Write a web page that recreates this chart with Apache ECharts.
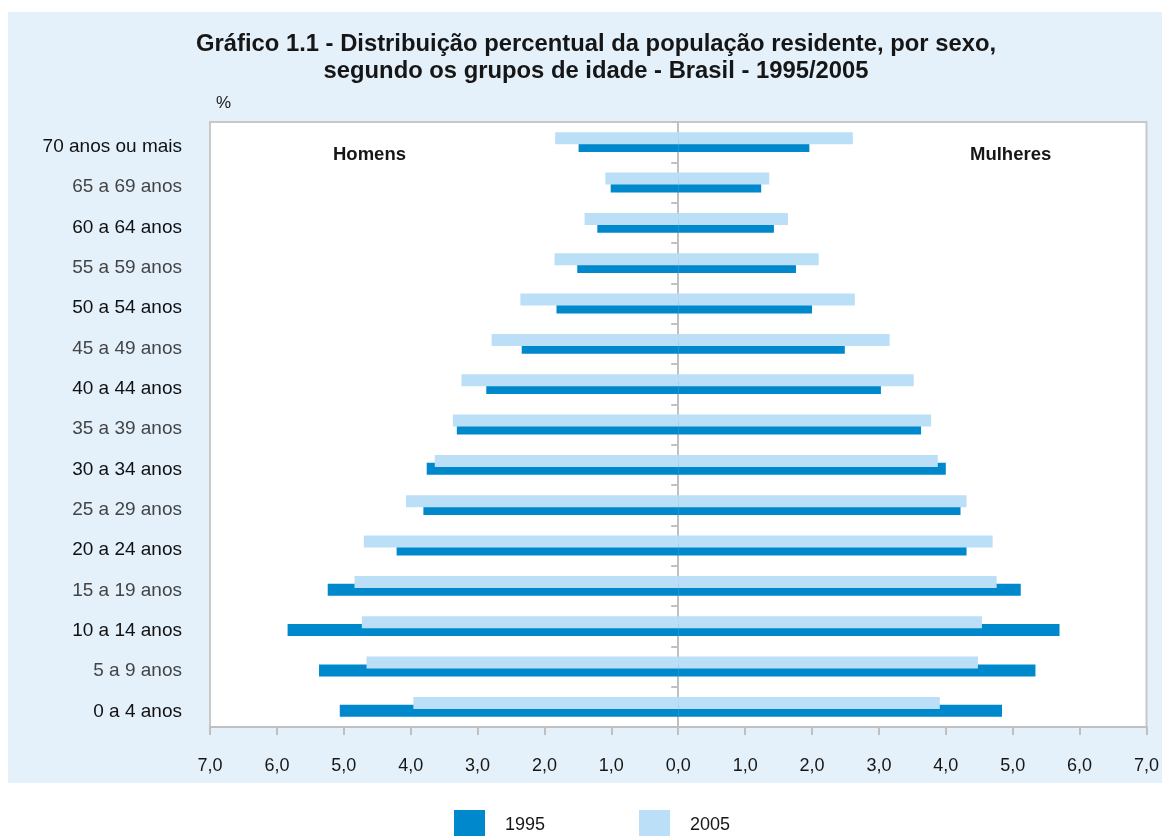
<!DOCTYPE html>
<html>
<head>
<meta charset="utf-8">
<script src="https://cdn.jsdelivr.net/npm/echarts@6/dist/echarts.min.js"></script>
<style>html,body{margin:0;padding:0;background:#fff;}#c{width:1162px;height:836px;}</style>
</head>
<body>
<div id="c"></div>
<script>
// Age groups, bottom to top
const categories = ['0 a 4 anos','5 a 9 anos','10 a 14 anos','15 a 19 anos','20 a 24 anos','25 a 29 anos','30 a 34 anos','35 a 39 anos','40 a 44 anos','45 a 49 anos','50 a 54 anos','55 a 59 anos','60 a 64 anos','65 a 69 anos','70 anos ou mais'];
const homens1995 = [5.06,5.37,5.84,5.24,4.21,3.81,3.76,3.31,2.87,2.34,1.82,1.51,1.21,1.01,1.49];
const homens2005 = [3.96,4.66,4.73,4.84,4.70,4.07,3.64,3.37,3.24,2.79,2.36,1.85,1.40,1.09,1.84];
const mulheres1995 = [4.84,5.34,5.70,5.12,4.31,4.22,4.00,3.63,3.03,2.49,2.00,1.76,1.43,1.24,1.96];
const mulheres2005 = [3.91,4.48,4.54,4.76,4.70,4.31,3.88,3.78,3.52,3.16,2.64,2.10,1.64,1.36,2.61];
const years = ['1995','2005'];
const xTicks = {min:-7, max:7, interval:1};

const C1995 = '#0088cc', C2005 = '#bbdff7';
const FONT = 'Liberation Sans, Arial, sans-serif';
const TXT = '#161616';

const chart = echarts.init(document.getElementById('c'), null, {renderer:'canvas'});
const barCommon = {type:'bar', barWidth:12, barGap:'-35%', yAxisIndex:0};
chart.setOption({
  backgroundColor:'#ffffff',
  animation:false,
  title:{
    text:'Gráfico 1.1 - Distribuição percentual da população residente, por sexo,\nsegundo os grupos de idade - Brasil - 1995/2005',
    left:591, top:26, textAlign:'center',
    textStyle:{fontFamily:FONT, fontSize:23.8, fontWeight:'bold', color:TXT, lineHeight:27}
  },
  legend:{
    data:years, left:454, top:810, itemWidth:31, itemHeight:30, itemGap:94, padding:0,
    icon:'rect',
    textStyle:{fontFamily:FONT, fontSize:18, color:TXT, padding:[0,0,0,15]}
  },
  graphic:[
    {type:'rect', z:-100, shape:{x:8,y:12,width:1154,height:771}, style:{fill:'#e4f1fb'}, silent:true},
    {type:'text', left:216, top:95, style:{text:'%', font:'17px '+FONT, fill:TXT}},
    {type:'text', left:333, top:145, style:{text:'Homens', font:'bold 18.5px '+FONT, fill:TXT}},
    {type:'text', left:970, top:145, style:{text:'Mulheres', font:'bold 18.5px '+FONT, fill:TXT}}
  ],
  grid:{left:210, right:15, top:122, bottom:109, show:true, backgroundColor:'#ffffff', borderColor:'#c8c8c8', borderWidth:2},
  xAxis:{
    type:'value', min:xTicks.min, max:xTicks.max, interval:xTicks.interval,
    axisLine:{show:true, lineStyle:{color:'#c0c0c0', width:2}},
    axisTick:{show:true, length:8, lineStyle:{color:'#c0c0c0', width:2}},
    splitLine:{show:false},
    axisLabel:{margin:30, fontFamily:FONT, fontSize:18, color:TXT,
      formatter:v=>Math.abs(v).toFixed(1).replace('.',',')}
  },
  yAxis:[
    {type:'category', data:categories, position:'left',
      axisLine:{show:true, onZero:true, lineStyle:{color:'#c0c0c0', width:2}},
      axisTick:{show:true, length:7, lineStyle:{color:'#c0c0c0', width:2}},
      axisLabel:{show:false}, splitLine:{show:false}},
    {type:'category', data:categories, position:'left',
      axisLine:{show:false, onZero:false}, axisTick:{show:false},
      axisLabel:{show:true, margin:28, fontFamily:FONT, fontSize:19,
        formatter:(v,i)=>'{' + (i % 2 === 0 ? 'k' : 'g') + '|' + v + '}',
        rich:{
          k:{fontFamily:FONT, fontSize:19, color:'#111111', padding:[9,0,0,0]},
          g:{fontFamily:FONT, fontSize:19, color:'#444444', padding:[9,0,0,0]}
        }},
      splitLine:{show:false}}
  ],
  series:[
    Object.assign({}, barCommon, {name:'2005', stack:'s2005', data:homens2005.map(v=>-v), itemStyle:{color:C2005}, z:3}),
    Object.assign({}, barCommon, {name:'2005', stack:'s2005', data:mulheres2005, itemStyle:{color:C2005}, z:3}),
    Object.assign({}, barCommon, {name:'1995', stack:'s1995', data:homens1995.map(v=>-v), itemStyle:{color:C1995}, z:2}),
    Object.assign({}, barCommon, {name:'1995', stack:'s1995', data:mulheres1995, itemStyle:{color:C1995}, z:2})
  ]
});
</script>
</body>
</html>
